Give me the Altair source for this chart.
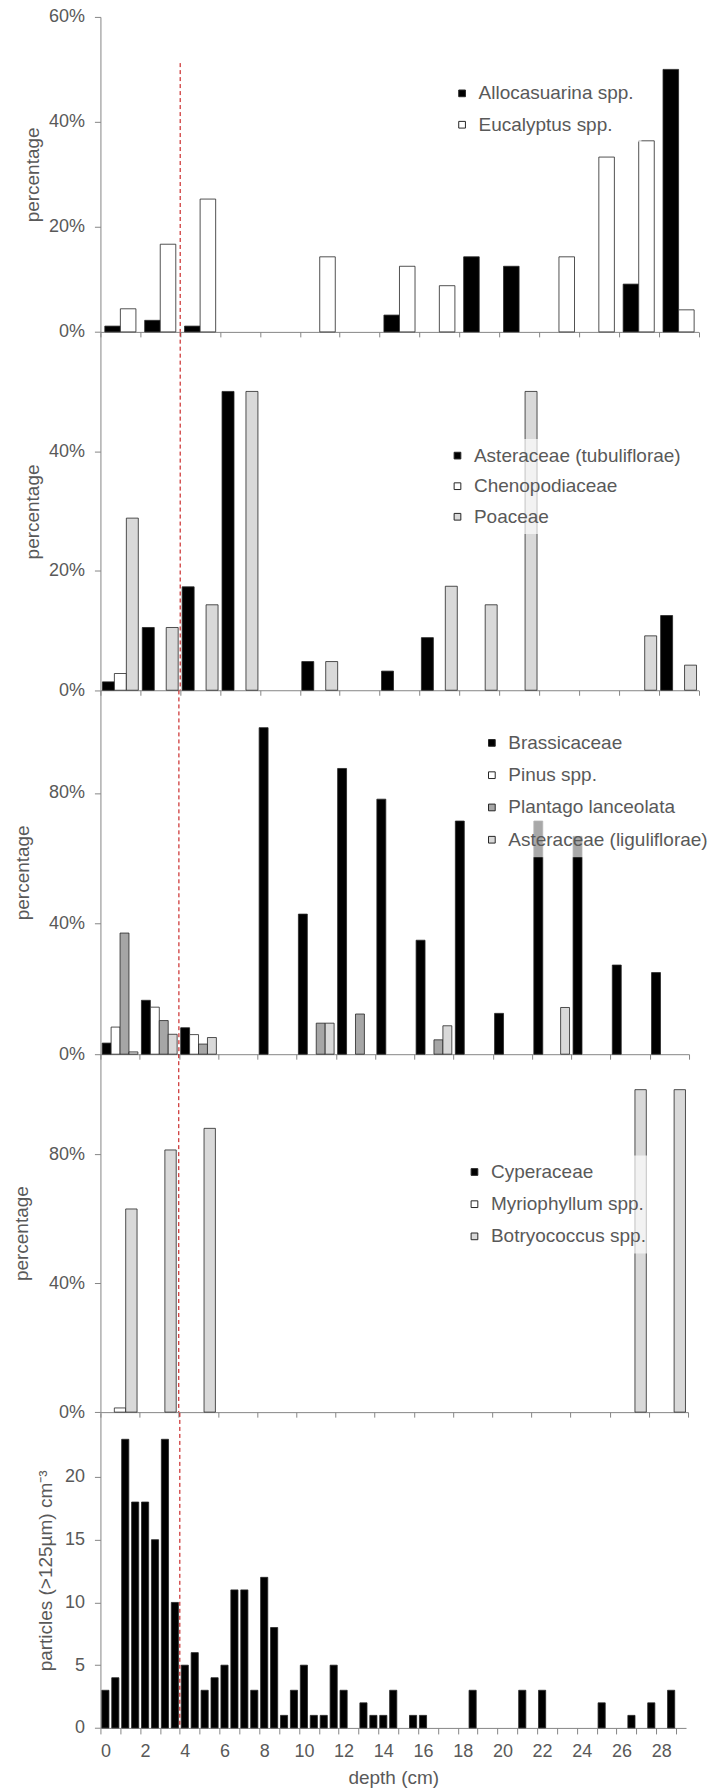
import altair as alt
import pandas as pd

FONT = "Liberation Sans"
TEXT = "#595959"
AXIS = "#868686"
OUTLINE = "#262626"
RED = "#C00000"
BLACK, WHITE, LIGHT, MID = "#000000", "#FFFFFF", "#D9D9D9", "#A6A6A6"

# Pollen samples: top depth (cm) of each 2-cm interval
pollen_depths = [0, 2, 4, 6, 8, 10, 12, 14, 16, 18, 20, 22, 24, 26, 28]

# Trees (%)
allocasuarina = [1.1, 2.2, 1.1, 0, 0, 0, 0, 3.2, 0, 14.3, 12.5, 0, 0, 9.1, 50.0]
eucalyptus = [4.4, 16.7, 25.3, 0, 0, 14.3, 0, 12.5, 8.8, 0, 0, 14.3, 33.3, 36.4, 4.2]

# Native herbs (%)
asteraceae_tub = [1.4, 10.5, 17.3, 50.0, 0, 4.8, 0, 3.2, 8.8, 0, 0, 0, 0, 0, 12.5]
chenopodiaceae = [2.8, 0, 0, 0, 0, 0, 0, 0, 0, 0, 0, 0, 0, 0, 0]
poaceae = [28.8, 10.5, 14.3, 50.0, 0, 4.8, 0, 0, 17.4, 14.3, 50.0, 0, 0, 9.1, 4.2]

# Introduced taxa (%)
brassicaceae = [3.4, 16.5, 8.1, 0, 100.0, 42.9, 87.5, 78.1, 34.9, 71.4, 12.5, 71.4, 66.7, 27.3, 25.0]
pinus = [8.3, 14.4, 6.0, 0, 0, 0, 0, 0, 0, 0, 0, 0, 0, 0, 0]
plantago = [37.1, 10.3, 3.1, 0, 0, 9.5, 12.3, 0, 4.4, 0, 0, 0, 0, 0, 0]
asteraceae_lig = [0.7, 6.1, 5.1, 0, 0, 9.5, 0, 0, 8.7, 0, 0, 14.3, 0, 0, 0]

# Aquatics (%)
cyperaceae = [0, 0, 0, 0, 0, 0, 0, 0, 0, 0, 0, 0, 0, 0, 0]
myriophyllum = [1.3, 0, 0, 0, 0, 0, 0, 0, 0, 0, 0, 0, 0, 0, 0]
botryococcus = [63.0, 81.3, 88.0, 0, 0, 0, 0, 0, 0, 0, 0, 0, 0, 100.0, 100.0]

# Macro-charcoal, contiguous 0.5-cm samples (top depth, cm)
charcoal_depths = [k * 0.5 for k in range(59)]
charcoal = [3, 4, 23, 18, 18, 15, 23, 10, 5, 6,
            3, 4, 5, 11, 11, 3, 12, 8, 1, 3,
            5, 1, 1, 5, 3, 0, 2, 1, 1, 3,
            0, 1, 1, 0, 0, 0, 0, 3, 0, 0,
            0, 0, 3, 0, 3, 0, 0, 0, 0, 0,
            2, 0, 0, 1, 0, 2, 0, 3, 0]

# Depth of the dashed reference line, and where it starts in the top panel (%)
marker_depth = 4.0
marker_top_pct = 51.2


def legend(x, y, row_pad):
    return alt.Legend(
        orient="none", legendX=x, legendY=y, title=None,
        symbolType="square", symbolSize=45, symbolStrokeColor=OUTLINE,
        symbolStrokeWidth=1, labelFont=FONT, labelFontSize=19,
        labelColor=TEXT, labelOffset=7, labelLimit=400, rowPadding=row_pad,
        fillColor="rgba(255,255,255,0.66)", padding=7, zindex=1,
    )


def y_axis(values, title, title_x, fmt_pct=True):
    return alt.Axis(
        values=values, title=title, titleX=title_x, titleBaseline="alphabetic",
        labelExpr="datum.value + '%'" if fmt_pct else "datum.label",
        tickSize=6, labelPadding=10, grid=False,
    )


def pollen_panel(series, colors, width, height, y_max, y_ticks, pad, bar_w,
                 leg_x, leg_y, row_pad, title_x, rule_top):
    names = [n for n, _ in series]
    df = pd.DataFrame([
        {"taxon": n, "slot": s, "depth": d, "pct": v}
        for s, (n, vals) in enumerate(series)
        for d, v in zip(pollen_depths, vals)
    ])
    xs = alt.Scale(domain=[0, 30], nice=False, zero=False)
    ys = alt.Scale(domain=[0, y_max], nice=False, zero=True)
    x_ax = alt.Axis(values=list(range(0, 31, 2)), labels=False, title=None,
                    tickSize=5, grid=False)
    y_ax = y_axis(y_ticks, "percentage", title_x)

    bars = alt.Chart(df).transform_filter("datum.pct > 0").transform_calculate(
        x0=f"datum.depth + 2 * ({pad} + datum.slot * {bar_w})",
        x1=f"datum.depth + 2 * ({pad} + (datum.slot + 1) * {bar_w})",
    ).mark_rect(stroke=OUTLINE, strokeWidth=0.8).encode(
        x=alt.X("x0:Q", scale=xs, axis=x_ax),
        x2="x1:Q",
        y=alt.Y("pct:Q", scale=ys, axis=y_ax),
        y2=alt.datum(0),
        color=alt.Color("taxon:N", scale=alt.Scale(domain=names, range=colors),
                        legend=legend(leg_x, leg_y, row_pad)),
    )
    mk = pd.DataFrame({"depth": [marker_depth], "top": [rule_top]})
    rule = alt.Chart(mk).mark_rule(color=RED, strokeDash=[4, 3], strokeWidth=1).encode(
        x=alt.X("depth:Q", scale=xs, axis=x_ax),
        y=alt.Y("top:Q", scale=ys, axis=y_ax),
        y2=alt.datum(0),
    )
    return alt.layer(bars, rule).properties(width=width, height=height)


p1 = pollen_panel(
    [("Allocasuarina spp.", allocasuarina), ("Eucalyptus spp.", eucalyptus)],
    [BLACK, WHITE], 598.5, 315.2, 60, [0, 20, 40, 60], 0.11, 0.39,
    345.4, 60, 11.4, -62, marker_top_pct)

p2 = pollen_panel(
    [("Asteraceae (tubuliflorae)", asteraceae_tub),
     ("Chenopodiaceae", chenopodiaceae), ("Poaceae", poaceae)],
    [BLACK, WHITE, LIGHT], 598.5, 357.8, 59.83, [0, 20, 40], 0.05, 0.30,
    340.8, 106.5, 10.6, -62, 59.83)

p3 = pollen_panel(
    [("Brassicaceae", brassicaceae), ("Pinus spp.", pinus),
     ("Plantago lanceolata", plantago),
     ("Asteraceae (liguliflorae)", asteraceae_lig)],
    [BLACK, WHITE, MID, LIGHT], 589, 364, 111.4, [0, 40, 80], 0.045, 0.2275,
    375.2, 36, 12.3, -71.5, 111.4)

p4 = pollen_panel(
    [("Cyperaceae", cyperaceae), ("Myriophyllum spp.", myriophyllum),
     ("Botryococcus spp.", botryococcus)],
    [BLACK, WHITE, LIGHT], 588, 358.2, 111.0, [0, 40, 80], 0.065, 0.29,
    357.8, 101.4, 12.2, -73, 111.0)

# Charcoal panel with the labelled depth axis
W5, H5, Y5 = 586, 315.2, 25.1
step5 = W5 / 29.5
df5 = pd.DataFrame({"depth": charcoal_depths, "count": charcoal})
xs5 = alt.Scale(domain=[0, 29.5], nice=False, zero=False)
ys5 = alt.Scale(domain=[0, Y5], nice=False, zero=True)
x_ax5 = alt.Axis(
    values=list(range(0, 30)),
    labelExpr="datum.value % 2 === 0 ? datum.label : ''",
    labelOffset=0.25 * step5, labelFlush=False, labelOverlap=False,
    tickSize=6, labelPadding=9, title="depth (cm)",
    titleY=56, titleBaseline="alphabetic", grid=False,
)
y_ax5 = y_axis([0, 5, 10, 15, 20], "particles (>125µm) cm⁻³", -49, fmt_pct=False)

bars5 = alt.Chart(df5).transform_filter("datum.count > 0").transform_calculate(
    x0="datum.depth + 0.07", x1="datum.depth + 0.43"
).mark_rect(color=BLACK, stroke=OUTLINE, strokeWidth=0.8).encode(
    x=alt.X("x0:Q", scale=xs5, axis=x_ax5),
    x2="x1:Q",
    y=alt.Y("count:Q", scale=ys5, axis=y_ax5),
    y2=alt.datum(0),
)
mk5 = pd.DataFrame({"depth": [marker_depth], "top": [Y5]})
rule5 = alt.Chart(mk5).mark_rule(color=RED, strokeDash=[4, 3], strokeWidth=1).encode(
    x=alt.X("depth:Q", scale=xs5, axis=x_ax5),
    y=alt.Y("top:Q", scale=ys5, axis=y_ax5),
    y2=alt.datum(0),
)
p5 = alt.layer(bars5, rule5).properties(width=W5, height=H5)

chart = alt.vconcat(p1, p2, p3, p4, p5, spacing=0, bounds="flush").resolve_scale(
    color="independent"
).resolve_legend(
    color="independent"
).properties(
    padding={"left": 11.5, "top": 6.3, "right": 5, "bottom": 2}
).configure(
    font=FONT
).configure_view(
    stroke="transparent"
).configure_axis(
    domainColor=AXIS, tickColor=AXIS, labelColor=TEXT, titleColor=TEXT,
    labelFont=FONT, titleFont=FONT, labelFontSize=18, titleFontSize=19,
    titleFontWeight="normal", domainWidth=1, tickWidth=1,
)

chart.save("out.html", embed_options={"renderer": "svg", "actions": False})
